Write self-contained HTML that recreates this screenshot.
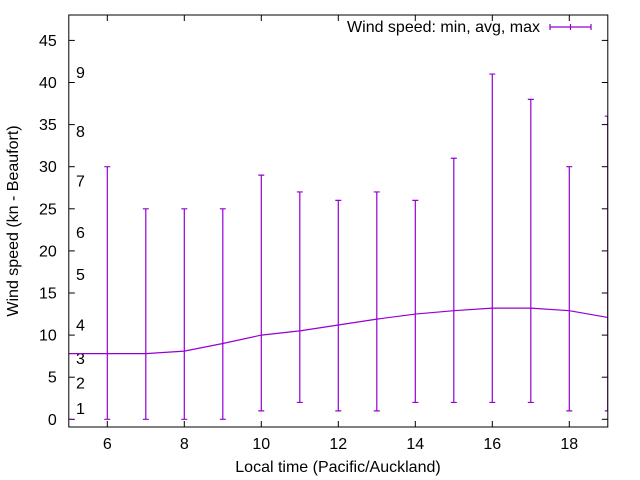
<!DOCTYPE html>
<html><head><meta charset="utf-8"><style>body{margin:0;background:#fff}svg{display:block;font-family:"Liberation Sans",sans-serif}</style></head>
<body>
<svg width="640" height="480" id="chart"></svg>
<script>
const hours=[5,6,7,8,9,10,11,12,13,14,15,16,17,18,19];
const avgSpeed=[7.8,7.8,7.8,8.1,9,10,10.5,11.2,11.9,12.5,12.9,13.2,13.2,12.9,12.1];
const minSpeed=[0,0,0,0,0,1,2,1,1,2,2,2,2,1,1];
const maxSpeed=[0,30,25,25,25,29,27,26,27,26,31,41,38,30,36];
const xTicks=[6,8,10,12,14,16,18];
const yTicks=[0,5,10,15,20,25,30,35,40,45];
const beaufortLabels=["1","2","3","4","5","6","7","8","9"];
const beaufortY=[1.3,4.3,7.2,11.2,17.2,22.2,28.3,34.2,41.2];
const X0=5,X1=19,Y0=0,Y1=48;
const L=68.8,R=607.8,T=15,B=427;
const sx=v=>L+(v-X0)*(R-L)/(X1-X0);
const sy=v=>419.3-v*8.42;
const svg=document.getElementById('chart');
const NS='http://www.w3.org/2000/svg';
function mk(t,a,txt){const e=document.createElementNS(NS,t);for(const k in a)e.setAttribute(k,a[k]);if(txt!==undefined)e.textContent=txt;svg.appendChild(e);return e;}
let e;
const C='#9400d3';
const defs=document.createElementNS(NS,'defs');defs.innerHTML='<clipPath id="cp"><rect x="'+L+'" y="'+T+'" width="'+(R-L)+'" height="'+(B-T)+'"/></clipPath>';svg.appendChild(defs);
yTicks.forEach(v=>{
 e=mk('line',{x1:L,x2:L+6,y1:sy(v),y2:sy(v),stroke:'#000'});
 
 
 e=mk('line',{x1:R-6,x2:R,y1:sy(v),y2:sy(v),stroke:'#000'});
 
 
 e=mk('text',{x:L-12,y:sy(v)+5.5,'text-anchor':'end','font-size':16,fill:'#000'},String(v));
 
 
});
xTicks.forEach(v=>{
 e=mk('line',{x1:sx(v),x2:sx(v),y1:B,y2:B-6,stroke:'#000'});
 
 
 e=mk('line',{x1:sx(v),x2:sx(v),y1:T,y2:T+6,stroke:'#000'});
 
 
 e=mk('text',{x:sx(v),y:B+22,'text-anchor':'middle','font-size':16,fill:'#000'},String(v));
 
 
});
beaufortLabels.forEach((s,i)=>{
 e=mk('text',{x:76,y:sy(beaufortY[i])+5.5,'font-size':16,fill:'#000'},s);
 
 
});
const g=document.createElementNS(NS,'g');g.setAttribute('clip-path','url(#cp)');svg.appendChild(g);


hours.forEach((h,i)=>{
 const x=sx(h);
 const p=document.createElementNS(NS,'path');
 p.setAttribute('d',`M${x},${sy(minSpeed[i])}V${sy(maxSpeed[i])}M${x-3},${sy(minSpeed[i])}h6M${x-3},${sy(maxSpeed[i])}h6`);
 p.setAttribute('stroke',C);p.setAttribute('fill','none');p.setAttribute('stroke-width','1.2');
 
 
 g.appendChild(p);
});
const pl=document.createElementNS(NS,'polyline');
pl.setAttribute('points',hours.map((h,i)=>sx(h)+','+sy(avgSpeed[i])).join(' '));
pl.setAttribute('stroke',C);pl.setAttribute('fill','none');pl.setAttribute('stroke-width','1.2');


g.appendChild(pl);
e=mk('rect',{x:L,y:T,width:R-L,height:B-T,fill:'none',stroke:'#000','stroke-width':1});


e=mk('text',{x:540,y:32,'text-anchor':'end','font-size':16,fill:'#000'},'Wind speed: min, avg, max');


e=mk('path',{d:'M550,27h41M550,24v6M570.5,24v6M591,24v6',stroke:C,fill:'none','stroke-width':1.2});


e=mk('text',{x:338,y:472,'text-anchor':'middle','font-size':16,fill:'#000'},'Local time (Pacific/Auckland)');


e=mk('text',{x:0,y:0,'text-anchor':'middle','font-size':16,fill:'#000',transform:'translate(18,221) rotate(-90)'},'Wind speed (kn - Beaufort)');


</script>
</body></html>
